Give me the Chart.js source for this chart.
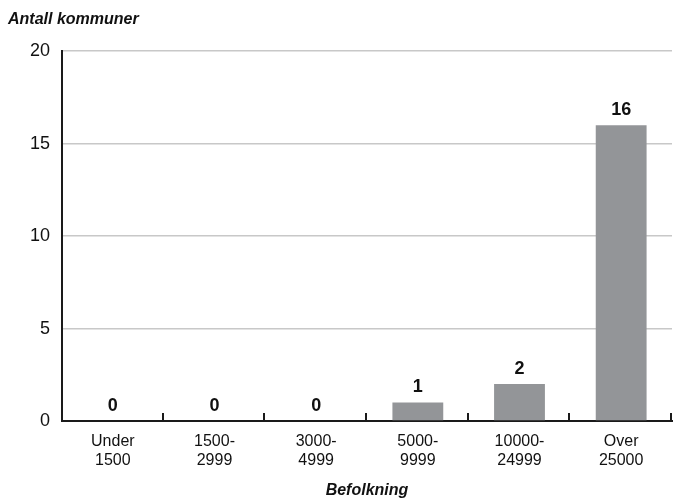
<!DOCTYPE html>
<html>
<head>
<meta charset="utf-8">
<script src="https://cdn.jsdelivr.net/npm/chart.js@4/dist/chart.umd.min.js"></script>
<style>
  body { margin: 0; background: #fff; }
  #wrap { width: 673px; height: 501px; }
</style>
</head>
<body>
<div id="wrap"><canvas id="chart"></canvas></div>
<script>
// data
var categories = [['Under', '1500'], ['1500-', '2999'], ['3000-', '4999'], ['5000-', '9999'], ['10000-', '24999'], ['Over', '25000']];
var antall = [0, 0, 0, 1, 2, 16];
var yTicks = [0, 5, 10, 15, 20];

var fontFam = "Helvetica, Arial, 'Liberation Sans', sans-serif";

// bold numbers above bars
var barLabels = {
  id: 'barLabels',
  afterDatasetsDraw: function(chart) {
    var ctx = chart.ctx;
    var meta = chart.getDatasetMeta(0);
    ctx.save();
    ctx.font = 'bold 18px ' + fontFam;
    ctx.fillStyle = '#111';
    ctx.textAlign = 'center';
    ctx.textBaseline = 'bottom';
    meta.data.forEach(function(bar, i) {
      ctx.fillText(String(antall[i]), bar.x, bar.y - 6);
    });
    ctx.restore();
  }
};

// small tick marks pointing up from the baseline between categories
var innerTicks = {
  id: 'innerTicks',
  afterDraw: function(chart) {
    var ctx = chart.ctx;
    var xs = chart.scales.x;
    var bottom = chart.chartArea.bottom;
    var half = (xs.getPixelForValue(1) - xs.getPixelForValue(0)) / 2;
    ctx.save();
    ctx.strokeStyle = '#1a1a1a';
    ctx.lineWidth = 2;
    for (var i = 0; i < categories.length; i++) {
      var x = Math.round(xs.getPixelForValue(i) + half) - 1;
      ctx.beginPath();
      ctx.moveTo(x, bottom);
      ctx.lineTo(x, bottom - 8);
      ctx.stroke();
    }
    ctx.restore();
  }
};

var chart = new Chart(document.getElementById('chart'), {
  type: 'bar',
  data: {
    labels: categories,
    datasets: [{
      data: antall,
      backgroundColor: '#939598',
      borderWidth: 0,
      categoryPercentage: 1,
      barPercentage: 0.5
    }]
  },
  options: {
    responsive: true,
    maintainAspectRatio: false,
    animation: false,
    devicePixelRatio: 1,
    layout: { padding: { left: 8, right: 1, top: 0, bottom: 1 } },
    plugins: {
      legend: { display: false },
      tooltip: { enabled: false },
      title: {
        display: true,
        text: 'Antall kommuner',
        align: 'start',
        color: '#111',
        font: { family: fontFam, size: 16, weight: 'bold', style: 'italic', lineHeight: 1.2 },
        padding: { top: 10, bottom: 22 }
      }
    },
    scales: {
      x: {
        afterFit: function(scale) { scale.height = 79; },
        grid: { display: false, drawTicks: false },
        border: { display: true, color: '#1a1a1a', width: 2 },
        ticks: {
          color: '#111',
          font: { family: fontFam, size: 16, lineHeight: 1.18 },
          padding: 11,
          maxRotation: 0
        },
        title: {
          display: true,
          text: 'Befolkning',
          color: '#111',
          font: { family: fontFam, size: 16, weight: 'bold', style: 'italic' },
          padding: { top: 8, bottom: 0 }
        }
      },
      y: {
        min: 0,
        max: 20,
        afterBuildTicks: function(scale) {
          scale.ticks = yTicks.map(function(v) { return { value: v }; });
        },
        afterFit: function(scale) { scale.width = 54; },
        grid: { color: '#c8c8c8', lineWidth: 1.5, drawTicks: false },
        border: { display: true, color: '#1a1a1a', width: 2 },
        ticks: {
          color: '#111',
          font: { family: fontFam, size: 18 },
          padding: 12
        }
      }
    }
  },
  plugins: [barLabels, innerTicks]
});
</script>
</body>
</html>
